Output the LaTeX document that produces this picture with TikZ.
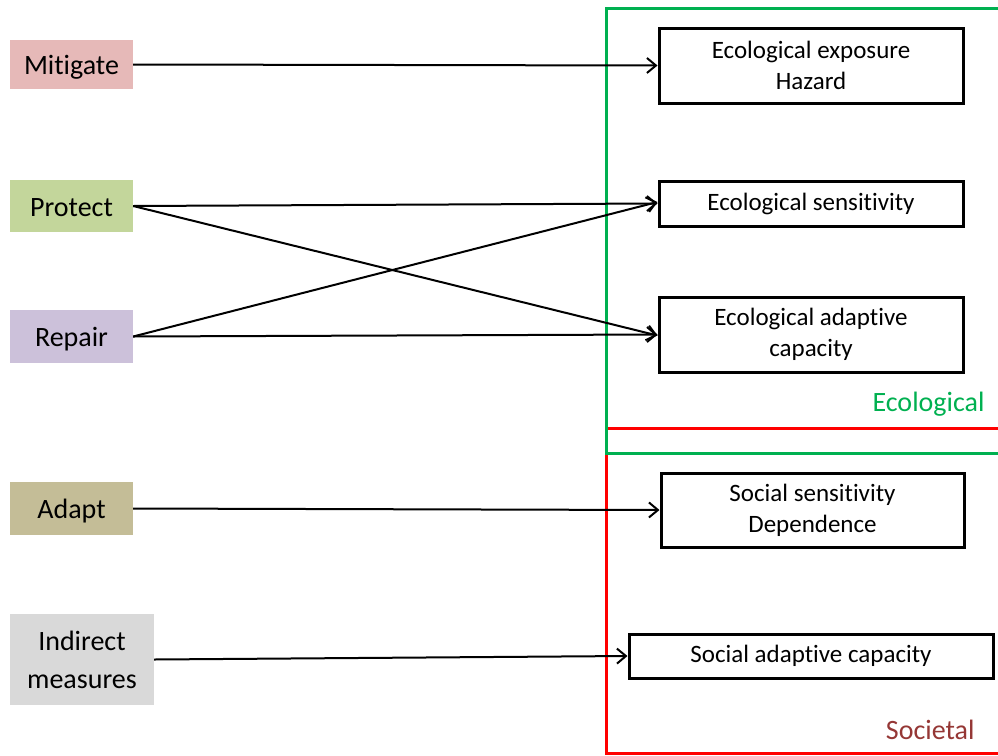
\documentclass[tikz,border=0pt]{standalone}
\usepackage{fontspec}
\setmainfont[Ligatures=NoCommon]{Carlito}
\usetikzlibrary{arrows.meta}
\definecolor{mitc}{HTML}{E6B9B8}
\definecolor{proc}{HTML}{C3D69B}
\definecolor{repc}{HTML}{CCC1DA}
\definecolor{adac}{HTML}{C4BD97}
\definecolor{indc}{HTML}{D9D9D9}
\definecolor{ecog}{HTML}{00B050}
\definecolor{socr}{HTML}{FF0000}
\definecolor{socl}{HTML}{953735}
\tikzset{
  lbox/.style={fill=#1, minimum width=123pt, inner sep=0pt, align=center,
    font=\fontsize{28}{38}\selectfont},
  lone/.style={text height=20pt, text depth=0pt},
  rbox/.style={draw, line width=3pt, minimum width=304pt, inner sep=0pt, align=center,
    font=\fontsize{25}{31}\selectfont},
  conn/.style={line width=2pt, -{Straight Barb[length=9pt,width=15pt,line width=2pt]}},
  frame/.style={line width=3pt},
}
\begin{document}
\begin{tikzpicture}[x=1pt,y=-1pt]
\useasboundingbox (0,0) rectangle (998,755);
% frames
\draw[socr, frame] (606,428) -- (1010,428);
\draw[socr, frame] (606,428) -- (606,753) -- (1010,753);
\draw[ecog, frame] (1010,8) -- (606,8) -- (606,453) -- (1010,453);
\node[text=ecog, anchor=east, font=\fontsize{28}{34}\selectfont] (ecolab) at (988,404) {Ecological};
\node[text=socl, anchor=east, font=\fontsize{28}{34}\selectfont] (soclab) at (978,730) {Societal};
% left boxes
\node[lbox=mitc, lone, minimum height=49pt] (mit) at (71.5,64.5) {Mitigate};
\node[lbox=proc, lone, minimum height=52pt] (pro) at (71.5,206) {Protect};
\node[lbox=repc, lone, minimum height=53pt] (rep) at (71.5,336.5) {Repair};
\node[lbox=adac, lone, minimum height=53pt] (ada) at (71.5,508.5) {Adapt};
\node[lbox=indc, minimum width=144pt, minimum height=91pt] (ind) at (82,659.5) {Indirect\\measures};
% right boxes
\node[rbox, minimum height=75pt] (ee) at (811,65.5) {Ecological exposure\\Hazard};
\node[rbox, minimum height=45pt] (es) at (811,203.5) {Ecological sensitivity};
\node[rbox, minimum height=75pt] (eac) at (811,334.5) {Ecological adaptive\\capacity};
\node[rbox, minimum width=303pt, minimum height=74pt] (ssd) at (812.5,510) {Social sensitivity\\Dependence};
\node[rbox, minimum width=364pt, minimum height=44pt] (sac) at (811,656) {Social adaptive capacity};
% connectors
\draw[conn] (mit.east) -- (ee.west);
\draw[conn] (pro.east) -- (es.west);
\draw[conn] (pro.east) -- ([yshift=-1pt]eac.west);
\draw[conn] (rep.east) -- ([yshift=1.5pt]es.west);
\draw[conn] (rep.east) -- (eac.west);
\draw[conn] (ada.east) -- (ssd.west);
\draw[conn] (ind.east) -- (sac.west);
\end{tikzpicture}
\end{document}
